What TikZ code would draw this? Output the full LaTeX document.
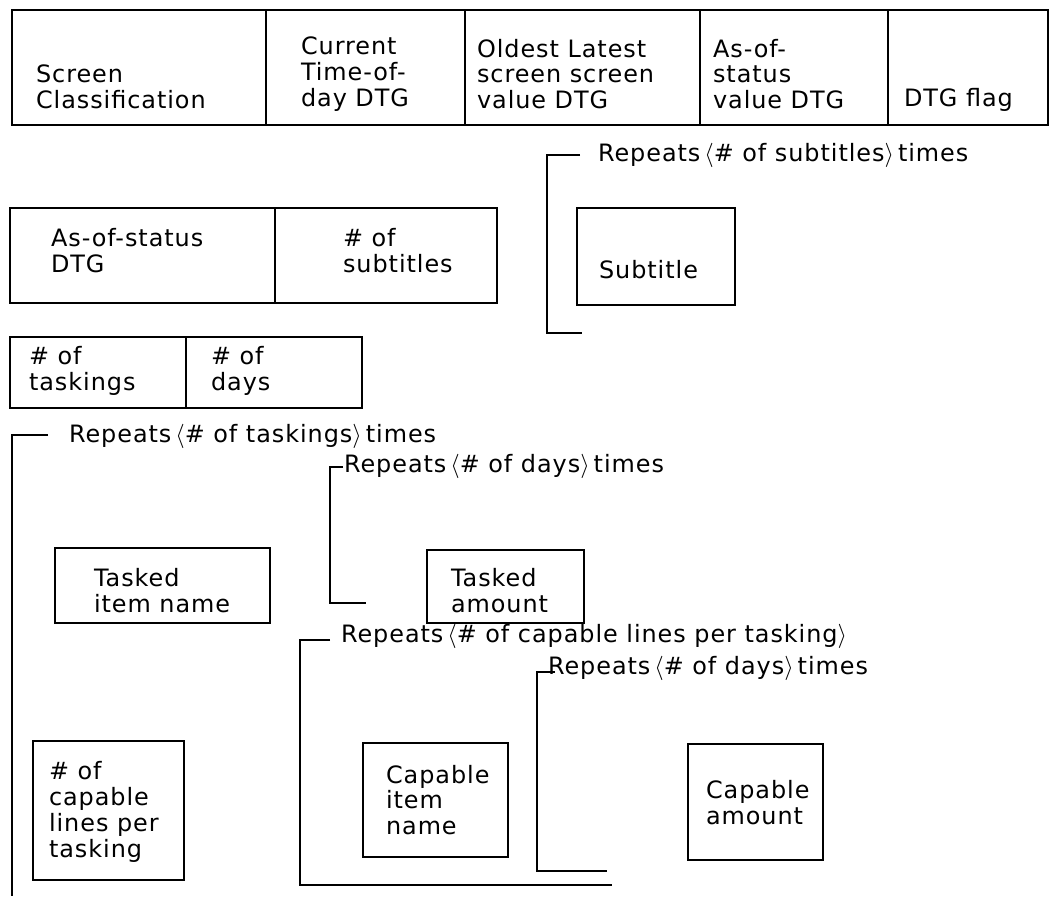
\documentclass[tikz,border=0pt]{standalone}
\usepackage{fontspec}
\setmainfont{DejaVu Sans}[LetterSpace=4]
\begin{document}
\begin{tikzpicture}[x=0.025cm, y=-0.025cm, line width=1.5pt,
    txt/.style={anchor=west, inner sep=0pt, align=left,
        font=\fontsize{17}{18.4}\selectfont},
    rep/.style={txt}]
    \useasboundingbox (0,0) rectangle (1052,896);
    \def\rpt#1{Repeats\,$\big\langle$\#~of~#1$\big\rangle$\,times}

    % header record
    \draw (12,10) rectangle (1048,125);
    \foreach \x in {266,465,700,888} {
        \draw (\x,10) -- (\x,125);
    }
    \node[txt] (scls) at (35,87) {Screen\\Classification};
    \node[txt] (ctod) at (300,74) {Current\\Time-of-\\day DTG};
    \node[txt] (olds) at (476,74) {Oldest Latest\\screen screen\\value DTG};
    \node[txt] (aosv) at (712,74) {As-of-\\status\\value DTG};
    \node[txt] (flag) at (903,100) {DTG flag};

    % status and subtitles
    \draw (10,208) rectangle (497,303);
    \draw (275,208) -- (275,303);
    \node[txt] (aost) at (50,251) {As-of-status\\DTG};
    \node[txt] (nsub) at (342,251) {\# of\\subtitles};
    \draw (577,208) rectangle (735,305);
    \node[txt] (subt) at (598,270) {Subtitle};

    % counts
    \draw (10,337) rectangle (362,408);
    \draw (186,337) -- (186,408);
    \node[txt] (ntsk) at (28,371) {\# of\\taskings};
    \node[txt] (nday) at (210,371) {\# of\\days};

    % taskings
    \draw (55,548) rectangle (270,623);
    \node[txt] (tnam) at (93,591) {Tasked\\item name};
    \draw (427,550) rectangle (584,623);
    \node[txt] (tamt) at (450,591) {Tasked\\amount};

    % capable lines
    \draw (33,741) rectangle (184,880);
    \node[txt] (ncap) at (48,812) {\# of\\capable\\lines per\\tasking};
    \draw (363,743) rectangle (508,857);
    \node[txt] (cnam) at (385,800) {Capable\\item\\name};
    \draw (688,744) rectangle (823,860);
    \node[txt] (camt) at (705,803) {Capable\\amount};

    % repeat brackets
    \node[rep] (rsub) at (597,155) {\rpt{subtitles}};
    \node[rep] (rtsk) at (68,436) {\rpt{taskings}};
    \node[rep] (rdy1) at (343,466) {\rpt{days}};
    \node[rep] (rcap) at (340,636) {Repeats\,$\big\langle$\#~of capable lines per tasking$\big\rangle$};
    \node[rep] (rdy2) at (547,668) {\rpt{days}};
    \foreach \x/\t/\y/\b/\e in {547/580/155/333/582, 330/343/467/603/366,
        300/330/640/885/612, 537/555/672/871/607} {
        \draw (\t,\y) -- (\x,\y) -- (\x,\b) -- (\e,\b);
    }
    \draw (48,435) -- (12,435) -- (12,896);
\end{tikzpicture}
\end{document}
